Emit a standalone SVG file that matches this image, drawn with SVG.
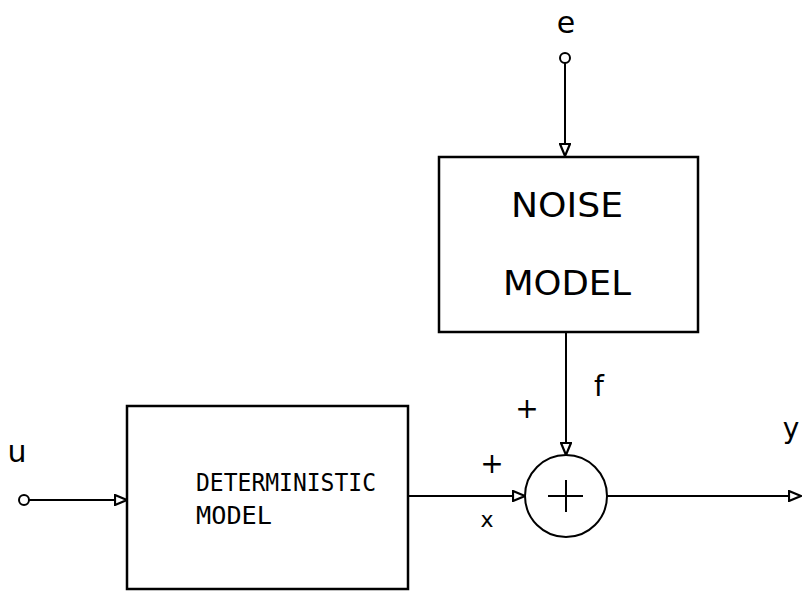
<svg xmlns="http://www.w3.org/2000/svg" width="802" height="592" viewBox="0 0 802 592">
<defs>
<style>
.box{fill:none;stroke:#000;stroke-width:2.5}
.ln{fill:none;stroke:#000;stroke-width:2}
.lbl{font-family:"DejaVu Sans",sans-serif;fill:#000}
.big{font-family:"DejaVu Sans",sans-serif;font-size:33px;fill:#000;text-anchor:middle}
.mono{font-family:"DejaVu Sans Mono","Liberation Mono",monospace;font-size:24px;fill:#000}
</style>
<marker id="arr" viewBox="0 0 14 12" refX="13" refY="6" markerWidth="14" markerHeight="12" markerUnits="userSpaceOnUse" orient="auto">
<path d="M1,1 L13,6 L1,11 Z" fill="#fff" stroke="#000" stroke-width="2.2"/>
</marker>
</defs>
<rect width="802" height="592" fill="#fff"/>
<g id="connectors">
<line class="ln" x1="565" y1="63" x2="565" y2="156" marker-end="url(#arr)"/>
<line class="ln" x1="566" y1="332" x2="566" y2="455" marker-end="url(#arr)"/>
<line class="ln" x1="29" y1="500" x2="127" y2="500" marker-end="url(#arr)"/>
<line class="ln" x1="408" y1="496" x2="525" y2="496" marker-end="url(#arr)"/>
<line class="ln" x1="607" y1="496" x2="801" y2="496" marker-end="url(#arr)"/>
</g>
<g id="input-e">
<circle cx="565" cy="58" r="5" class="ln"/>
<text class="lbl" x="566" y="33" font-size="30" text-anchor="middle">e</text>
</g>
<g id="input-u">
<circle cx="24" cy="500" r="5" class="ln"/>
<text class="lbl" x="17" y="462" font-size="30" text-anchor="middle">u</text>
</g>
<g id="noise-model">
<rect class="box" x="439" y="157" width="259" height="175"/>
<text class="big" x="567" y="217" textLength="112" lengthAdjust="spacingAndGlyphs">NOISE</text>
<text class="big" x="567" y="295" textLength="128" lengthAdjust="spacingAndGlyphs">MODEL</text>
</g>
<g id="deterministic-model">
<rect class="box" x="127" y="406" width="281" height="183"/>
<text class="mono" x="196" y="491" textLength="180" lengthAdjust="spacingAndGlyphs">DETERMINISTIC</text>
<text class="mono" x="196" y="524" textLength="76" lengthAdjust="spacingAndGlyphs">MODEL</text>
</g>
<g id="summing-junction">
<circle cx="566" cy="496" r="41" class="ln"/>
<line class="ln" x1="548" y1="496" x2="583" y2="496"/>
<line class="ln" x1="566" y1="480" x2="566" y2="512"/>
</g>
<g id="labels">
<text class="lbl" x="527" y="418" font-size="28" text-anchor="middle">+</text>
<text class="lbl" x="492" y="473" font-size="28" text-anchor="middle">+</text>
<text class="lbl" x="599" y="396" font-size="28" text-anchor="middle">f</text>
<text class="lbl" x="487" y="527" font-size="22" text-anchor="middle">x</text>
<text class="lbl" x="791" y="438" font-size="28" text-anchor="middle">y</text>
</g>
</svg>
